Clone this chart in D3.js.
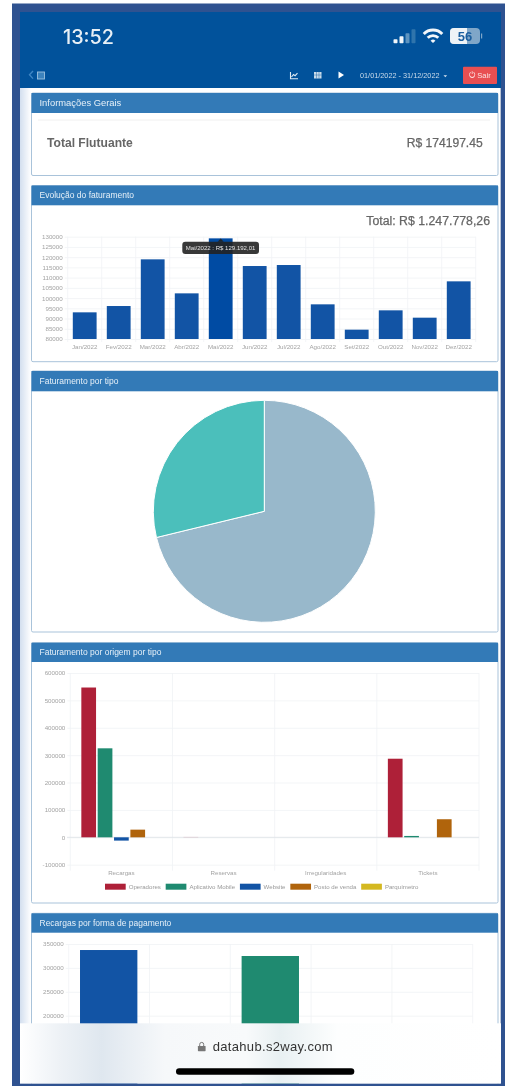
<!DOCTYPE html>
<html>
<head>
<meta charset="utf-8">
<script src="https://cdn.jsdelivr.net/npm/d3@7"></script>
<style>
    html, body { margin: 0; padding: 0; background: #fff; overflow: hidden; }
    svg { display: block; font-family: "Liberation Sans", sans-serif; filter: blur(0.35px); }
    .tick text { fill: #a3a3a3; font-size: 6.2px; }
    .grid line { stroke: #f0f2f5; stroke-width: 0.8; }
    .base line { stroke: #dde1e6; stroke-width: 0.8; }
    .domain { display: none; }
</style>
</head>
<body>
<svg id="page" width="505" height="1086"></svg>
<script>
// Evolução do faturamento
const months = ["Jan/2022", "Fev/2022", "Mar/2022", "Abr/2022", "Mai/2022", "Jun/2022", "Jul/2022", "Ago/2022", "Set/2022", "Out/2022", "Nov/2022", "Dez/2022"];
const monthValues = [93030, 96120, 118930, 102310, 129192.01, 115670, 116160, 96940, 84560, 94010, 90420, 108180];
const monthTicks = [80000, 85000, 90000, 95000, 100000, 105000, 110000, 115000, 120000, 125000, 130000];

// Faturamento por tipo
const pieValues = [888500, 359278];

// Faturamento por origem por tipo
const origins = ["Recargas", "Reservas", "Irregularidades", "Tickets"];
const operadores = [547000, 1500, 0, 287000];
const aplicativo = [325000, 0, 0, 5000];
const website = [-12000, 0, 0, 0];
const postoVenda = [28000, 0, 0, 66000];
const parquimetro = [0, 0, 0, 0];
const seriesNames = ["Operadores", "Aplicativo Mobile", "Website", "Posto de venda", "Parquímetro"];
const originTicks = [-100000, 0, 100000, 200000, 300000, 400000, 500000, 600000];

// Recargas por forma de pagamento (rest of the chart is cut off by the browser bar)
const payments = ["a", "b", "c", "d", "e"];
const paymentValues = [337400, 0, 324900, 0, 0];
const paymentTicks = [200000, 250000, 300000, 350000];

const seriesColors = ["#ae2038", "#1f8a70", "#1254a5", "#b0640c", "#d4b820"];
const svg = d3.select("#page");

// Phone frame and blue header
svg.append("rect").attr("x", 12).attr("y", 3.5).attr("width", 493).attr("height", 1083).attr("fill", "#2f5290");
svg.append("rect").attr("x", 20).attr("y", 12).attr("width", 481).attr("height", 1072).attr("fill", "#fff");
svg.append("rect").attr("x", 500).attr("y", 88).attr("width", 1).attr("height", 996).attr("fill", "#b9c4d6");
svg.append("rect").attr("x", 20).attr("y", 12).attr("width", 481).attr("height", 76).attr("fill", "#01529b");

const defs = svg.append("defs");
const sideFade = defs.append("linearGradient").attr("id", "sideFade");
sideFade.append("stop").attr("offset", 0).attr("stop-color", "#d3dfef");
sideFade.append("stop").attr("offset", 1).attr("stop-color", "#ffffff");
svg.append("rect").attr("x", 20).attr("y", 88).attr("width", 11).attr("height", 996).attr("fill", "url(#sideFade)");

// Status bar
svg.append("text").attr("x", 63).attr("y", 44).attr("font-size", 19.8).attr("font-weight", 500)
    .attr("font-family", "Inter").attr("fill", "#e8f0f6").text("13:52");

const signal = svg.append("g").attr("transform", "translate(393.5,43.3)");
[4, 7, 10, 14].forEach((h, i) => {
    signal.append("rect").attr("x", i * 6).attr("y", -h).attr("width", 4).attr("height", h).attr("rx", 0.8)
        .attr("fill", ["#f2f6fa", "#f2f6fa", "#5d93c0", "#2f74ac"][i]);
});

const wifi = svg.append("g").attr("transform", "translate(433,43)");
[[0, 3.4], [6, 8.8], [11.4, 14.4]].forEach(r => {
    wifi.append("path").attr("fill", "#f2f6fa")
        .attr("d", d3.arc()({innerRadius: r[0], outerRadius: r[1], startAngle: -0.8, endAngle: 0.8}));
});

svg.append("rect").attr("x", 450).attr("y", 28).attr("width", 30).attr("height", 16).attr("rx", 4).attr("fill", "#7fa6c8");
svg.append("path").attr("fill", "#eef3f7").attr("d", "M454 28h13v16h-13a4 4 0 0 1-4-4v-8a4 4 0 0 1 4-4z");
svg.append("rect").attr("x", 481).attr("y", 33.5).attr("width", 1.2).attr("height", 5).attr("fill", "#7fa6c8");
svg.append("text").attr("x", 465).attr("y", 40.5).attr("text-anchor", "middle").attr("font-size", 13)
    .attr("font-weight", "bold").attr("fill", "#1c5f9f").text("56");

// Toolbar
svg.append("path").attr("d", "M33 71l-3.5 3.8 3.5 3.8").attr("fill", "none").attr("stroke", "#3f86c4").attr("stroke-width", 1.4);
svg.append("rect").attr("x", 37.5).attr("y", 72).attr("width", 7).attr("height", 7).attr("fill", "#3d83bd").attr("stroke", "#9cc0de").attr("stroke-width", 0.9);
svg.append("path").attr("d", "M290.5 72v6.8h7.5M291.5 77l2-2.5 1.6 1.2 2.4-2.6").attr("fill", "none").attr("stroke", "#dfe9f2").attr("stroke-width", 1.1);
svg.append("rect").attr("x", 314).attr("y", 72).attr("width", 7.5).attr("height", 6.5).attr("fill", "#c9dbea");
svg.append("path").attr("d", "M316.5 72v6.5M319 72v6.5M314 75h7.5").attr("stroke", "#01529b").attr("stroke-width", 0.4);
svg.append("path").attr("d", "M338.5 71.5l5.5 3.5-5.5 3.5z").attr("fill", "#fff");
svg.append("text").attr("x", 360).attr("y", 78).attr("font-size", 7.3).attr("fill", "#c9dbea").text("01/01/2022 - 31/12/2022");
svg.append("path").attr("d", "M443.5 75.2h3.6l-1.8 2z").attr("fill", "#d6e3ef");
svg.append("rect").attr("x", 463).attr("y", 66.7).attr("width", 34).attr("height", 17.3).attr("rx", 1).attr("fill", "#e84f52");
svg.append("text").attr("x", 480).attr("y", 78.2).attr("text-anchor", "middle").attr("font-size", 7.6).attr("fill", "#fbe4e4").text("⏻ Sair");

// Panels
function panel(title, top, headBottom, bottom, fontSize = 8.5) {
    const g = svg.append("g");
    g.append("rect").attr("x", 31.5).attr("y", top).attr("width", 466.5).attr("height", bottom - top)
        .attr("rx", 1.5).attr("fill", "#fff").attr("stroke", "#a9c3da").attr("stroke-width", 1);
    g.append("rect").attr("x", 31.5).attr("y", top).attr("width", 466.5).attr("height", headBottom - top).attr("fill", "#337ab7");
    g.append("text").attr("x", 39.5).attr("y", (top + headBottom) / 2 + 3).attr("font-size", fontSize)
        .attr("fill", "#e6f0f8").text(title);
}

panel("Informações Gerais", 93, 113, 175.5, 9.4);
panel("Evolução do faturamento", 185.5, 205.3, 361.7);
panel("Faturamento por tipo", 371, 391.3, 632);
panel("Faturamento por origem por tipo", 642.7, 662, 903);
panel("Recargas por forma de pagamento", 913.3, 932.7, 1090);

svg.append("line").attr("x1", 38).attr("x2", 490).attr("y1", 120).attr("y2", 120).attr("stroke", "#f0f0f0");
svg.append("text").attr("x", 47).attr("y", 147).attr("font-size", 12.1).attr("font-weight", "bold").attr("fill", "#666").text("Total Flutuante");
svg.append("text").attr("x", 482.7).attr("y", 147).attr("text-anchor", "end").attr("font-size", 12.1).attr("fill", "#666")
    .attr("stroke", "#666").attr("stroke-width", 0.25).text("R$ 174197.45");
svg.append("text").attr("x", 490).attr("y", 225).attr("text-anchor", "end").attr("font-size", 12.3).attr("fill", "#666")
    .attr("stroke", "#666").attr("stroke-width", 0.25).text("Total: R$ 1.247.778,26");

// Shared axis drawing: horizontal grid with labels, vertical grid on category edges
function drawGrid(x, y, ticks, bottomY, tickDown) {
    const [left, right] = x.range();
    svg.append("g").attr("class", "grid").attr("transform", `translate(${left},0)`)
        .call(d3.axisLeft(y).tickValues(ticks).tickSize(-(right - left)).tickPadding(5).tickFormat(d => String(d)))
        .call(g => g.selectAll("line").attr("x1", -3));
    const edges = x.domain().map(d => x(d)).concat(right);
    svg.append("g").attr("class", "grid").selectAll("line").data(edges).enter().append("line")
        .attr("x1", d => d).attr("x2", d => d)
        .attr("y1", y.range()[1]).attr("y2", bottomY + tickDown);
}

// Evolução do faturamento
const xMonth = d3.scaleBand().domain(months).range([67.7, 475.7]);
const yMonth = d3.scaleLinear().domain([80000, 130000]).range([339, 236.7]);
drawGrid(xMonth, yMonth, monthTicks, 339, 3);

svg.append("g").attr("class", "bars").selectAll("rect").data(months).enter().append("rect")
    .attr("x", d => xMonth(d) + xMonth.bandwidth() * 0.15)
    .attr("width", xMonth.bandwidth() * 0.7)
    .attr("y", (d, i) => yMonth(monthValues[i]))
    .attr("height", (d, i) => yMonth(80000) - yMonth(monthValues[i]))
    .attr("fill", d => d === "Mai/2022" ? "#004ba3" : "#1254a5");

svg.append("g").attr("transform", "translate(0,342)")
    .call(d3.axisBottom(xMonth).tickSize(0).tickPadding(3));

// Tooltip on the hovered bar
const tipX = xMonth("Mai/2022") + xMonth.bandwidth() / 2;
svg.append("path").attr("fill", "#222").attr("opacity", 0.9)
    .attr("d", `M${tipX} 238.5l3 3.2h-6z`);
svg.append("rect").attr("x", 182.3).attr("y", 241.7).attr("width", 76.7).attr("height", 12.3).attr("rx", 3)
    .attr("fill", "#222").attr("opacity", 0.9);
svg.append("text").attr("x", 220.6).attr("y", 250.2).attr("text-anchor", "middle").attr("font-size", 6.05)
    .attr("fill", "#e4e4e4").text("Mai/2022 : R$ 129.192,01");

// Faturamento por tipo
const pie = d3.pie().sort(null);
const pieArc = d3.arc().innerRadius(0).outerRadius(111);
svg.append("g").attr("transform", "translate(264.3,511.3)")
    .selectAll("path").data(pie(pieValues)).enter().append("path")
    .attr("d", pieArc)
    .attr("fill", (d, i) => ["#98b8cb", "#4bbfbb"][i])
    .attr("stroke", "#fff").attr("stroke-width", 1);

// Faturamento por origem por tipo
const xOrigin = d3.scaleBand().domain(origins).range([70.3, 479]);
const xSeries = d3.scaleBand().domain(seriesNames)
    .range([xOrigin.bandwidth() * 0.1, xOrigin.bandwidth() * 0.9]).paddingInner(0.1).paddingOuter(0.05);
const yOrigin = d3.scaleLinear().domain([-100000, 600000]).range([864.7, 673]);
drawGrid(xOrigin, yOrigin, originTicks, 864.7, 6);

svg.append("g").attr("class", "base").append("line")
    .attr("x1", 67).attr("x2", 479).attr("y1", yOrigin(0)).attr("y2", yOrigin(0));

[operadores, aplicativo, website, postoVenda, parquimetro].forEach((values, s) => {
    svg.append("g").selectAll("rect").data(origins).enter().append("rect")
        .attr("x", d => xOrigin(d) + xSeries(seriesNames[s]))
        .attr("width", xSeries.bandwidth())
        .attr("y", (d, i) => Math.min(yOrigin(values[i]), yOrigin(0)))
        .attr("height", (d, i) => Math.abs(yOrigin(values[i]) - yOrigin(0)))
        .attr("fill", seriesColors[s])
        .attr("opacity", (d, i) => values[i] === 1500 ? 0.25 : 1);
});

svg.append("g").attr("transform", "translate(0,867)")
    .call(d3.axisBottom(xOrigin).tickSize(0).tickPadding(4));

// Legend, laid out from the measured label widths
let legendX = 105;
seriesNames.forEach((name, i) => {
    svg.append("rect").attr("x", legendX).attr("y", 883.7).attr("width", 20.7).attr("height", 6).attr("fill", seriesColors[i]);
    const label = svg.append("text").attr("x", legendX + 23.7).attr("y", 889).attr("font-size", 6.1).attr("fill", "#999").text(name);
    legendX += 23.7 + label.node().getComputedTextLength() + 4.8;
});

// Recargas por forma de pagamento
const xPayment = d3.scaleBand().domain(payments).range([68.7, 472.7]);
const yPayment = d3.scaleLinear().domain([0, 350000]).range([1111.3, 944]);
drawGrid(xPayment, yPayment, paymentTicks, 1090, 0);

svg.append("g").selectAll("rect").data(payments).enter().append("rect")
    .attr("x", d => xPayment(d) + xPayment.bandwidth() * 0.14)
    .attr("width", xPayment.bandwidth() * 0.71)
    .attr("y", (d, i) => yPayment(paymentValues[i]))
    .attr("height", (d, i) => yPayment(0) - yPayment(paymentValues[i]))
    .attr("fill", (d, i) => i === 0 ? "#1254a5" : "#1f8a70");

// Browser bar on top of the page
const barFade = defs.append("linearGradient").attr("id", "barFade");
[[0, "#ffffff"], [0.08, "#eef2f6"], [0.17, "#dfe7ef"], [0.3, "#f6f8fa"], [0.47, "#f8fafb"], [0.54, "#e8f0f2"], [0.66, "#fdfefe"], [1, "#ffffff"]].forEach(s => {
    barFade.append("stop").attr("offset", s[0]).attr("stop-color", s[1]);
});
svg.append("rect").attr("x", 20).attr("y", 1023.3).attr("width", 481).attr("height", 60.4).attr("fill", "url(#barFade)");
svg.append("rect").attr("x", 20).attr("y", 1083.7).attr("width", 485).attr("height", 2.3).attr("fill", "#2f5290");
svg.append("rect").attr("x", 501).attr("y", 1020).attr("width", 4).attr("height", 66).attr("fill", "#2f5290");

svg.append("path").attr("fill", "#777").attr("d", "M198.5 1046h6.5a0.6 0.6 0 0 1 .6 .6v4a0.6 0.6 0 0 1-.6 .6h-6.5a0.6 0.6 0 0 1-.6-.6v-4a0.6 0.6 0 0 1 .6-.6z");
svg.append("path").attr("fill", "none").attr("stroke", "#777").attr("stroke-width", 1).attr("d", "M199.7 1046v-1.6a2 2 0 0 1 4 0v1.6");
svg.append("text").attr("x", 212.7).attr("y", 1050.5).attr("font-size", 13).attr("letter-spacing", 0.33)
    .attr("fill", "#333").text("datahub.s2way.com");
svg.append("rect").attr("x", 176).attr("y", 1068.3).attr("width", 178.3).attr("height", 6.4).attr("rx", 3.2).attr("fill", "#000");
</script>
</body>
</html>
